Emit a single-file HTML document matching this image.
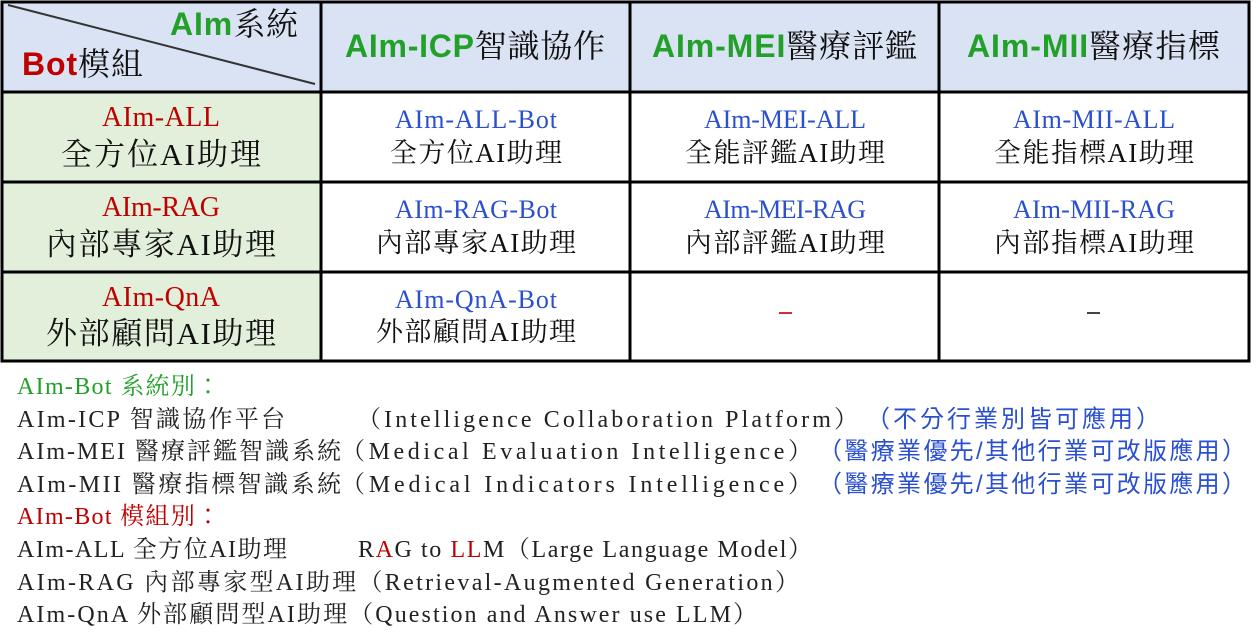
<!DOCTYPE html>
<html><head><meta charset="utf-8"><style>
html,body{margin:0;padding:0;background:#fff;}
svg{display:block}
.m{font-family:"Liberation Serif","Noto Serif CJK TC","Noto Serif CJK SC",serif;}
.s{font-family:"Liberation Serif","Noto Serif CJK TC","Noto Serif CJK SC",serif;}
.h{font-family:"Liberation Sans",sans-serif;font-weight:bold;fill:#22a02a;}
.b{font-family:"Liberation Sans","Noto Sans CJK TC",sans-serif;fill:#2a4fcf;}
</style></head><body>
<svg width="1257" height="639" viewBox="0 0 1257 639" xmlns="http://www.w3.org/2000/svg">
<rect x="2" y="2" width="1247" height="90" fill="#dae3f3"/>
<rect x="2" y="92" width="319" height="269" fill="#e2efda"/>
<line x1="8" y1="5" x2="315" y2="84" stroke="#333" stroke-width="2"/>
<g stroke="#000" stroke-width="3" fill="none">
<rect x="2" y="2" width="1247" height="359"/>
<line x1="321" y1="2" x2="321" y2="361"/>
<line x1="630" y1="2" x2="630" y2="361"/>
<line x1="939" y1="2" x2="939" y2="361"/>
<line x1="2" y1="92" x2="1249" y2="92"/>
<line x1="2" y1="182" x2="1249" y2="182"/>
<line x1="2" y1="272" x2="1249" y2="272"/>
</g>
<text x="170" y="35" font-size="32" textLength="128"><tspan class="h">AIm</tspan><tspan class="s" fill="#111">系統</tspan></text>
<text x="22" y="75" font-size="32" textLength="121"><tspan class="h" style="fill:#c00000">Bot</tspan><tspan class="s" fill="#111">模組</tspan></text>
<text x="345" y="57" font-size="32" textLength="260"><tspan class="h">AIm-ICP</tspan><tspan class="s" fill="#111">智識協作</tspan></text>
<text x="652" y="57" font-size="32" textLength="265"><tspan class="h">AIm-MEI</tspan><tspan class="s" fill="#111">醫療評鑑</tspan></text>
<text x="967" y="57" font-size="32" textLength="253"><tspan class="h">AIm-MII</tspan><tspan class="s" fill="#111">醫療指標</tspan></text>
<g class="m" text-anchor="middle">
<text x="161" y="126" font-size="28" fill="#c00000" textLength="118">AIm-ALL</text>
<text x="161" y="165" font-size="31" fill="#111" textLength="200">全方位AI助理</text>
<text x="161" y="216" font-size="28" fill="#c00000" textLength="118">AIm-RAG</text>
<text x="161" y="255" font-size="31" fill="#111" textLength="230">內部專家AI助理</text>
<text x="161" y="306" font-size="28" fill="#c00000" textLength="118">AIm-QnA</text>
<text x="161" y="344" font-size="31" fill="#111" textLength="230">外部顧問AI助理</text>
</g>
<g class="m" text-anchor="middle">
<text x="476" y="128" font-size="26" fill="#2a4fcf" textLength="162">AIm-ALL-Bot</text>
<text x="476" y="162" font-size="27" fill="#111" textLength="172">全方位AI助理</text>
<text x="785" y="128" font-size="26" fill="#2a4fcf" textLength="162">AIm-MEI-ALL</text>
<text x="785" y="162" font-size="27" fill="#111" textLength="200">全能評鑑AI助理</text>
<text x="1094" y="128" font-size="26" fill="#2a4fcf" textLength="162">AIm-MII-ALL</text>
<text x="1094" y="162" font-size="27" fill="#111" textLength="200">全能指標AI助理</text>
<text x="476" y="218" font-size="26" fill="#2a4fcf" textLength="162">AIm-RAG-Bot</text>
<text x="476" y="252" font-size="27" fill="#111" textLength="200">內部專家AI助理</text>
<text x="785" y="218" font-size="26" fill="#2a4fcf" textLength="162">AIm-MEI-RAG</text>
<text x="785" y="252" font-size="27" fill="#111" textLength="200">內部評鑑AI助理</text>
<text x="1094" y="218" font-size="26" fill="#2a4fcf" textLength="162">AIm-MII-RAG</text>
<text x="1094" y="252" font-size="27" fill="#111" textLength="200">內部指標AI助理</text>
<text x="476" y="308" font-size="26" fill="#2a4fcf" textLength="162">AIm-QnA-Bot</text>
<text x="476" y="341" font-size="27" fill="#111" textLength="200">外部顧問AI助理</text>
</g>
<rect x="779" y="312" width="13" height="2" fill="#d03030"/>
<rect x="1087" y="312" width="13" height="2" fill="#444"/>
<g class="m" font-size="24" fill="#222">
<text x="17" y="394" fill="#22a02a" textLength="203">AIm-Bot 系統別：</text>
<text x="17" y="427" textLength="268">AIm-ICP 智識協作平台</text>
<text x="357" y="427" textLength="501">（Intelligence Collaboration Platform）</text>
<text x="17" y="459" textLength="324">AIm-MEI 醫療評鑑智識系統</text>
<text x="341" y="459" textLength="471">（Medical Evaluation Intelligence）</text>
<text x="17" y="492" textLength="324">AIm-MII 醫療指標智識系統</text>
<text x="341" y="492" textLength="471">（Medical Indicators Intelligence）</text>
<text x="17" y="524" fill="#c00000" textLength="203">AIm-Bot 模組別：</text>
<text x="17" y="557" textLength="270">AIm-ALL 全方位AI助理</text>
<text x="358" y="557" textLength="454">R<tspan fill="#c00000">A</tspan>G to <tspan fill="#c00000">LL</tspan>M（Large Language Model）</text>
<text x="17" y="590" textLength="782">AIm-RAG 內部專家型AI助理（Retrieval-Augmented Generation）</text>
<text x="17" y="622" textLength="740">AIm-QnA 外部顧問型AI助理（Question and Answer use LLM）</text>
</g>
<g class="b" font-size="24">
<text x="866" y="427" textLength="294">（不分行業別皆可應用）</text>
<text x="818" y="459" textLength="428">（醫療業優先/其他行業可改版應用）</text>
<text x="818" y="492" textLength="428">（醫療業優先/其他行業可改版應用）</text>
</g>
</svg>
</body></html>
